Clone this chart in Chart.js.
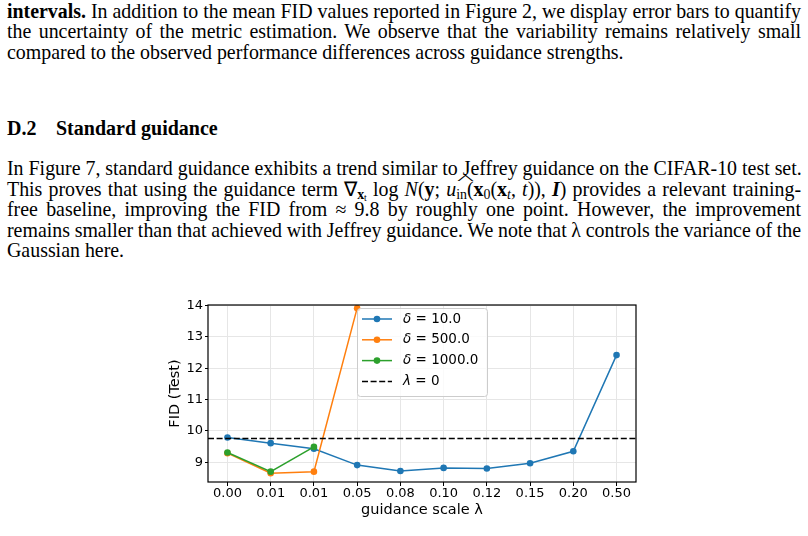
<!DOCTYPE html>
<html>
<head>
<meta charset="utf-8">
<script src="https://cdn.jsdelivr.net/npm/chart.js@4.4.1/dist/chart.umd.min.js"></script>
<style>
  html, body { margin: 0; padding: 0; background: #fff; }
  body { width: 808px; height: 536px; position: relative; overflow: hidden;
         font-family: "Liberation Serif", "Times New Roman", serif; color: #000; }
  .txt { position: absolute; left: 7px; width: 794px; font-size: 19.9px; line-height: 20.6px; }
  .txt div { text-align: justify; text-align-last: justify; white-space: nowrap; height: 20.6px; }
  .txt div.last { text-align-last: left; }
  .txt div.tight { word-spacing: -1.5px; }
  .txt sub { font-size: 70%; line-height: 0; vertical-align: -0.25em; }
  .hat { position: relative; display: inline-block; }
  .hat::before { content: "^"; position: absolute; left: 0; right: 0; top: -6px; text-align: center;
                 transform: scaleX(3); font-size: 12px; line-height: 12px; }
  h3 { position: absolute; left: 7px; top: 116px; margin: 0; font-size: 20px; line-height: 24px; font-weight: bold; }
  h3 span { display: inline-block; width: 49px; }
  #chartBox { position: absolute; left: 160px; top: 295px; width: 490px; height: 230px; }
</style>
</head>
<body>

<div class="txt" style="top:0.5px">
  <div class="tight"><b>intervals.</b> In addition to the mean FID values reported in Figure 2, we display error bars to quantify</div>
  <div>the uncertainty of the metric estimation. We observe that the variability remains relatively small</div>
  <div class="last">compared to the observed performance differences across guidance strengths.</div>
</div>

<h3><span>D.2</span>Standard guidance</h3>

<div class="txt" style="top:158px">
  <div>In Figure 7, standard guidance exhibits a trend similar to Jeffrey guidance on the CIFAR-10 test set.</div>
  <div>This proves that using the guidance term &nabla;<sub><b>x</b><sub>t</sub></sub> log <i>N</i>(<b>y</b>; <i>u</i><sub>in</sub>(<span class="hat"><b>x</b><sub>0</sub></span>(<b>x</b><sub><i>t</i></sub>, <i>t</i>)), <b><i>I</i></b>) provides a relevant training-</div>
  <div>free baseline, improving the FID from &asymp; 9.8 by roughly one point. However, the improvement</div>
  <div class="tight">remains smaller than that achieved with Jeffrey guidance. We note that &lambda; controls the variance of the</div>
  <div class="last">Gaussian here.</div>
</div>

<div id="chartBox"><canvas id="graficoFid"></canvas></div>

<script>
// guidance scale lambda (tick labels, one per position)
const xLabels = ['0.00', '0.01', '0.01', '0.05', '0.08', '0.10', '0.12', '0.15', '0.20', '0.50'];
const yTicks = [9, 10, 11, 12, 13, 14];

// FID (Test) per delta
const fidDelta10 = [9.79, 9.61, 9.43, 8.91, 8.72, 8.82, 8.80, 8.97, 9.35, 12.42];
const fidDelta500 = [9.29, 8.65, 8.70, 13.92];
const fidDelta1000 = [9.31, 8.70, 9.49];
const fidSinGuia = 9.76; // lambda = 0

const xMin = -0.45, xMax = 9.45;
const yMin = 8.37, yMax = 14.02;

const aPuntos = arr => arr.map((y, i) => ({ x: i, y }));

function serie(label, data, color, order) {
    return { label, data: aPuntos(data), borderColor: color, backgroundColor: color,
             borderWidth: 1.5, pointRadius: 3.3, pointHoverRadius: 3.3, pointBorderWidth: 0,
             tension: 0, order };
}

// Marco + leyenda dentro del area
const marcoLeyenda = {
    id: 'marcoLeyenda',
    afterDraw(chart) {
        const { ctx, chartArea: a } = chart;
        ctx.save();
        ctx.strokeStyle = '#000';
        ctx.lineWidth = 1.2;
        ctx.strokeRect(a.left, a.top, a.right - a.left, a.bottom - a.top);

        const bx = a.left + 149, by = a.top + 3, bw = 130, bh = 88;
        ctx.fillStyle = 'rgba(255,255,255,0.8)';
        ctx.strokeStyle = '#cccccc';
        ctx.lineWidth = 1;
        ctx.beginPath();
        ctx.roundRect(bx + 0.5, by + 0.5, bw, bh, 3);
        ctx.fill();
        ctx.stroke();

        chart.data.datasets.forEach((ds, i) => {
            const y = by + 11 + i * 20.8;
            ctx.strokeStyle = ds.borderColor;
            ctx.lineWidth = ds.borderWidth;
            ctx.setLineDash(ds.borderDash || []);
            ctx.beginPath();
            ctx.moveTo(bx + 5, y);
            ctx.lineTo(bx + 35, y);
            ctx.stroke();
            ctx.setLineDash([]);
            if (ds.pointRadius) {
                ctx.fillStyle = ds.borderColor;
                ctx.beginPath();
                ctx.arc(bx + 20, y, ds.pointRadius, 0, 2 * Math.PI);
                ctx.fill();
            }
            const sym = ds.label[0], rest = ds.label.slice(1);
            ctx.fillStyle = '#000';
            ctx.textBaseline = 'middle';
            ctx.font = 'italic 13.5px "DejaVu Sans"';
            ctx.fillText(sym, bx + 46, y);
            const w = ctx.measureText(sym).width;
            ctx.font = '13.5px "DejaVu Sans"';
            ctx.fillText(rest, bx + 46 + w, y);
        });
        ctx.restore();
    }
};

const fuente = { family: '"DejaVu Sans"', size: 13 };
const fuenteTitulo = { family: '"DejaVu Sans"', size: 14.5 };

new Chart(document.getElementById('graficoFid').getContext('2d'), {
    type: 'line',
    data: {
        datasets: [
            serie('δ = 10.0', fidDelta10, '#1f77b4', 4),
            serie('δ = 500.0', fidDelta500, '#ff7f0e', 3),
            serie('δ = 1000.0', fidDelta1000, '#2ca02c', 2),
            { label: 'λ = 0', data: [{ x: xMin, y: fidSinGuia }, { x: xMax, y: fidSinGuia }],
              borderColor: '#000', backgroundColor: '#000', borderWidth: 1.5, borderDash: [6, 2.6],
              pointRadius: 0, tension: 0, order: 1 }
        ]
    },
    options: {
        responsive: true, maintainAspectRatio: false, animation: false, devicePixelRatio: 1,
        layout: { padding: { top: 10, right: 14, left: 0, bottom: 0 } },
        plugins: { legend: { display: false }, tooltip: { enabled: false } },
        scales: {
            x: {
                type: 'linear', min: xMin, max: xMax,
                afterBuildTicks: s => { s.ticks = xLabels.map((_, i) => ({ value: i })); },
                afterFit: s => { s.height = 43; },
                ticks: { color: '#000', font: fuente, padding: 0, maxRotation: 0, autoSkip: false,
                         callback: v => xLabels[v] },
                grid: { color: '#e6e6e6', lineWidth: 1, tickColor: '#000', tickLength: 4 },
                border: { display: false },
                title: { display: true, text: 'guidance scale λ', color: '#000', font: fuenteTitulo,
                         padding: { top: 0, bottom: 6 } }
            },
            y: {
                min: yMin, max: yMax,
                afterBuildTicks: s => { s.ticks = yTicks.map(v => ({ value: v })); },
                afterFit: s => { s.width = 48; },
                ticks: { color: '#000', font: fuente, padding: 2 },
                grid: { color: '#e6e6e6', lineWidth: 1, tickColor: '#000', tickLength: 3 },
                border: { display: false },
                title: { display: true, text: 'FID (Test)', color: '#000', font: fuenteTitulo,
                         padding: { top: 7, bottom: 0 } }
            }
        }
    },
    plugins: [marcoLeyenda]
});
</script>
</body>
</html>
